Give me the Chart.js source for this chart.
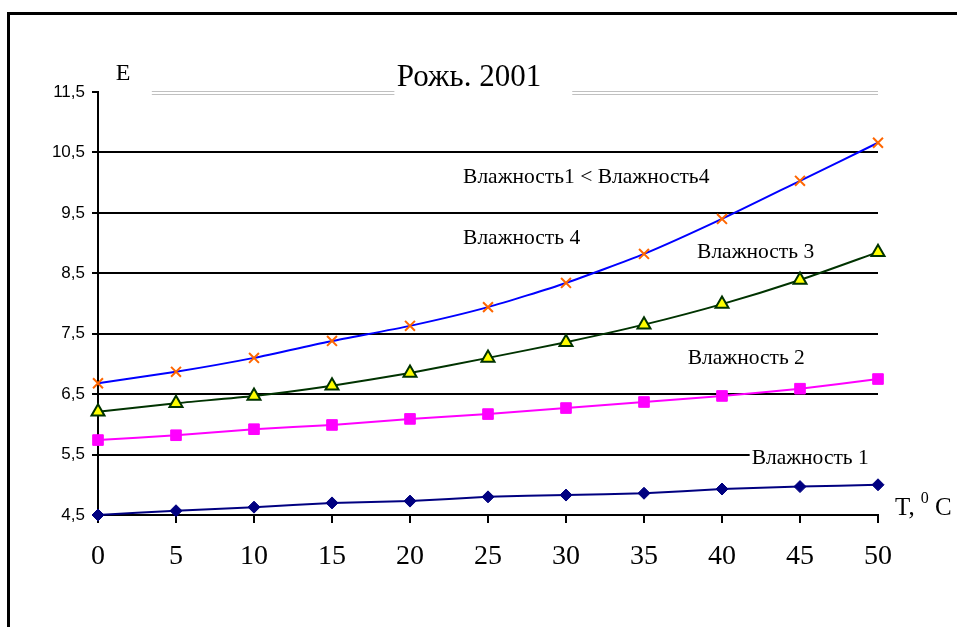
<!DOCTYPE html>
<html>
<head>
<meta charset="utf-8">
<script src="https://cdn.jsdelivr.net/npm/chart.js@4/dist/chart.umd.min.js"></script>
<style>
  html, body { margin: 0; padding: 0; background: #fff; }
  #wrap { width: 957px; height: 627px; position: relative; }
</style>
</head>
<body>
<div id="wrap"><canvas id="chart" width="957" height="627"></canvas></div>
<script>
const temps = [0, 5, 10, 15, 20, 25, 30, 35, 40, 45, 50];
const humidity1 = [4.50, 4.57, 4.63, 4.70, 4.73, 4.80, 4.83, 4.86, 4.93, 4.97, 5.00];
const humidity2 = [5.74, 5.82, 5.92, 5.99, 6.09, 6.17, 6.27, 6.37, 6.47, 6.59, 6.75];
const humidity3 = [6.21, 6.35, 6.47, 6.64, 6.85, 7.10, 7.36, 7.65, 7.99, 8.39, 8.85];
const humidity4 = [6.68, 6.87, 7.10, 7.38, 7.63, 7.94, 8.34, 8.82, 9.40, 10.03, 10.66];
const yTicks = [4.5, 5.5, 6.5, 7.5, 8.5, 9.5, 10.5, 11.5];
const xTicks = [0, 5, 10, 15, 20, 25, 30, 35, 40, 45, 50];

// text notes placed in data units (left edge, middle)
const notes = [
  { text: "Влажность1 < Влажность4", x: 23.4, y: 10.09 },
  { text: "Влажность 4", x: 23.4, y: 9.08 },
  { text: "Влажность 3", x: 38.4, y: 8.85 },
  { text: "Влажность 2", x: 37.8, y: 7.10 },
  { text: "Влажность 1", x: 41.9, y: 5.43, box: true }
];

const pts = arr => arr.map((v, i) => ({ x: temps[i], y: v }));
const serif = "'Liberation Serif', 'Times New Roman', serif";

const decor = {
  id: "decor",
  beforeDraw(chart) {
    const c = chart.ctx;
    c.save();
    c.fillStyle = "#fff";
    c.fillRect(0, 0, chart.width, chart.height);
    // frame
    c.strokeStyle = "#000";
    c.lineWidth = 3;
    c.beginPath();
    c.moveTo(chart.width, 13.5);
    c.lineTo(8.5, 13.5);
    c.lineTo(8.5, chart.height);
    c.stroke();
    c.restore();
  },
  afterDraw(chart) {
    const c = chart.ctx;
    const xs = chart.scales.x, ys = chart.scales.y;
    c.save();
    // gray double rule at top
    c.strokeStyle = "#c0c0c0";
    c.lineWidth = 1;
    const top = ys.getPixelForValue(11.5);
    [[3.45, 19.0], [30.4, 50]].forEach(([a, b]) => {
      [top - 1.5, top + 1.5].forEach(yy => {
        c.beginPath();
        c.moveTo(xs.getPixelForValue(a), Math.round(yy) + 0.5);
        c.lineTo(xs.getPixelForValue(b), Math.round(yy) + 0.5);
        c.stroke();
      });
    });
    c.fillStyle = "#000";
    c.textBaseline = "middle";
    c.font = "31px " + serif;
    c.textAlign = "center";
    c.fillText("Рожь. 2001", 469, 78);
    c.font = "24px " + serif;
    c.fillText("E", 123, 74);
    // x axis title with superscript
    c.textAlign = "left";
    c.font = "25px " + serif;
    let px = 895;
    c.fillText("T,", px, 508);
    px += c.measureText("T,").width + 6;
    c.font = "16px " + serif;
    c.fillText("0", px, 499);
    px += c.measureText("0").width;
    c.font = "25px " + serif;
    c.fillText(" C", px, 508);
    // notes
    c.font = "21.5px " + serif;
    notes.forEach(n => {
      const nx = xs.getPixelForValue(n.x), ny = ys.getPixelForValue(n.y);
      if (n.box) {
        const w = c.measureText(n.text).width;
        c.fillStyle = "#fff";
        c.fillRect(nx - 2, ny - 11, w + 14, 22);
      }
      c.fillStyle = "#000";
      c.fillText(n.text, nx, ny);
    });
    c.restore();
  }
};

new Chart(document.getElementById("chart"), {
  type: "line",
  data: {
    datasets: [
      {
        label: "Влажность 1",
        data: pts(humidity1),
        borderColor: "#000080",
        backgroundColor: "#000080",
        borderWidth: 2,
        pointStyle: "rectRot",
        pointRadius: 6,
        pointBorderWidth: 1,
        tension: 0.2,
        clip: false
      },
      {
        label: "Влажность 2",
        data: pts(humidity2),
        borderColor: "#ff00ff",
        backgroundColor: "#ff00ff",
        borderWidth: 2,
        pointStyle: "rect",
        pointRadius: 7.5,
        pointBorderWidth: 1,
        tension: 0.2,
        clip: false
      },
      {
        label: "Влажность 3",
        data: pts(humidity3),
        borderColor: "#003300",
        backgroundColor: "#ffff00",
        borderWidth: 2,
        pointStyle: "triangle",
        pointRadius: 7.5,
        pointBorderColor: "#003300",
        pointBorderWidth: 2,
        tension: 0.2,
        clip: false
      },
      {
        label: "Влажность 4",
        data: pts(humidity4),
        borderColor: "#0000ff",
        backgroundColor: "#ff6600",
        borderWidth: 2,
        pointStyle: "crossRot",
        pointRadius: 7,
        pointBorderColor: "#ff6600",
        pointBorderWidth: 2,
        tension: 0.2,
        clip: false
      }
    ]
  },
  options: {
    responsive: false,
    animation: false,
    layout: { padding: { left: 0, top: 92, right: 79, bottom: 0 } },
    plugins: {
      legend: { display: false },
      tooltip: { enabled: false }
    },
    scales: {
      x: {
        type: "linear",
        min: 0,
        max: 50,
        afterBuildTicks: s => { s.ticks = xTicks.map(v => ({ value: v })); },
        afterFit: s => { s.height = 112; },
        ticks: {
          color: "#000",
          padding: 17,
          font: { family: serif, size: 28 }
        },
        grid: { drawOnChartArea: false, drawTicks: true, tickLength: 8, color: "#000", lineWidth: 2 },
        border: { display: true, color: "#000", width: 2 }
      },
      y: {
        min: 4.5,
        max: 11.5,
        afterBuildTicks: s => { s.ticks = yTicks.map(v => ({ value: v })); },
        afterFit: s => { s.width = 98; },
        ticks: {
          color: "#000",
          padding: 7,
          font: { family: "'Liberation Sans', Arial, sans-serif", size: 17 },
          callback: v => String(v).replace(".", ",")
        },
        grid: {
          color: ctx => (ctx.tick && ctx.tick.value === 11.5 ? "rgba(0,0,0,0)" : "#000"),
          tickColor: "#000",
          lineWidth: 2,
          tickLength: 6
        },
        border: { display: true, color: "#000", width: 2 }
      }
    }
  },
  plugins: [decor]
});
</script>
</body>
</html>
